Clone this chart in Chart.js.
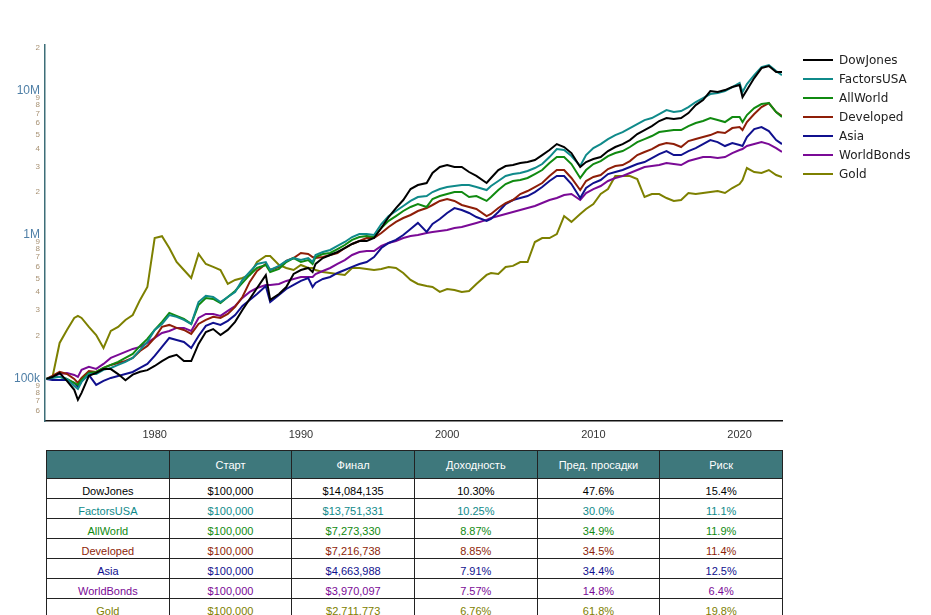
<!DOCTYPE html>
<html>
<head>
<meta charset="utf-8">
<script src="https://cdn.jsdelivr.net/npm/chart.js@4/dist/chart.umd.min.js"></script>
<style>
  body { margin: 0; background: #fff; font-family: "Liberation Sans", Arial, sans-serif; }
  #wrap { position: relative; width: 931px; height: 615px; overflow: hidden; }
  #chartBox { position: absolute; left: 0; top: 0; width: 931px; height: 445px; }
  #legend { position: absolute; left: 803px; top: 50px; font: 12px "DejaVu Sans", sans-serif; color: #222; }
  #legend div { height: 19px; display: flex; align-items: center; }
  #legend span { display: inline-block; width: 30px; height: 2px; margin-right: 6px; }
  #stats { position: absolute; left: 46px; top: 450px; width: 737px; border-collapse: collapse; table-layout: fixed; font-size: 11px; }
  #stats th { background: #3e787c; color: #fff; font-weight: normal; height: 28px; border: 1px solid #222; padding: 0; box-sizing: border-box; }
  #stats td { height: 20px; border: 1px solid #222; text-align: center; padding: 4px 0 0 0; box-sizing: border-box; }
</style>
</head>
<body>
<div id="wrap">
  <div id="chartBox"><canvas id="growth"></canvas></div>
  <div id="legend"></div>
  <table id="stats"></table>
</div>
<script>
// time axis (years, half-year steps plus a few crash points)
const years = [1972.6, 1973, 1973.5, 1974, 1974.5, 1974.75, 1975, 1975.5, 1976, 1976.5, 1977, 1977.5, 1978, 1978.5, 1979, 1979.5,
  1980, 1980.5, 1981, 1981.5, 1982, 1982.5, 1983, 1983.5, 1984, 1984.5, 1985, 1985.5, 1986, 1986.5, 1987, 1987.6, 1987.9,
  1988.5, 1989, 1989.5, 1990, 1990.5, 1990.8, 1991, 1991.5, 1992, 1992.5, 1993, 1993.5, 1994, 1994.5, 1995, 1995.5, 1996, 1996.5, 1997, 1997.5, 1998, 1998.6,
  1999, 1999.5, 2000, 2000.5, 2001, 2001.5, 2002, 2002.7, 2003, 2003.5, 2004, 2004.5, 2005, 2005.5, 2006, 2006.5, 2007, 2007.5, 2008, 2008.5, 2009.1,
  2009.5, 2010, 2010.5, 2011, 2011.5, 2012, 2012.5, 2013, 2013.5, 2014, 2014.5, 2015, 2015.5, 2016, 2016.5, 2017, 2017.5, 2018, 2018.5, 2019, 2019.5, 2020, 2020.2, 2020.5, 2021, 2021.5, 2022, 2022.5, 2022.9];

// portfolio values in thousands of $
const dowJones = [100, 103, 110, 97, 84, 71.5, 80, 105, 110, 117, 117, 108, 98, 107, 112, 115,
  123, 133, 142, 147, 133, 133, 175, 212, 222, 202, 219, 249, 301, 359, 428, 526, 354,
  389, 435, 536, 571, 590, 553, 629, 692, 726, 762, 812, 866, 909, 909, 953, 1119, 1333, 1539, 1750, 2086, 2224, 2297,
  2695, 2967, 3063, 2967, 2967, 2739, 2571, 2297, 2490, 2827, 3015, 3063, 3162, 3213, 3317, 3593, 3892, 4284, 4086, 3710, 2967,
  3213, 3371, 3480, 3830, 4086, 4284, 4567, 5027, 5360, 5714, 6191, 6493, 6390, 6493, 7034, 7993, 8660, 10000, 9842, 10162, 10666, 11010, 9081, 10162, 12310, 14445, 14912, 13550, 13550];

const factorsUSA = [100, 101.6, 103.3, 100, 89.4, 85.3, 95.3, 108.3, 108.3, 115.5, 119.2, 125.1, 131.2, 139.9, 159, 180.7,
  219, 241, 278, 270, 257, 241, 342, 378, 371, 342, 371, 402, 487, 553, 629, 649, 571,
  610, 660, 692, 670, 692, 649, 726, 762, 787, 839, 894, 968, 1016, 1016, 1000, 1192, 1354, 1468, 1591, 1725, 1836, 1866,
  1988, 2086, 2154, 2189, 2224, 2224, 2154, 2053, 2189, 2372, 2571, 2652, 2695, 2784, 2920, 3112, 3480, 3955, 3892, 3536, 3015,
  3593, 4018, 4284, 4641, 4946, 5189, 5533, 5899, 6289, 6493, 6922, 7380, 7148, 7263, 7743, 8390, 8945, 9531, 9685, 10000, 10666, 11366, 9842, 11183, 12915, 14680, 15153, 13760, 12915];

const allWorld = [100, 103.3, 103.3, 100, 93.8, 90.9, 98.4, 110.1, 111.8, 119.2, 125.1, 131.2, 139.9, 149.1, 169.5, 189.6,
  219, 249, 287.5, 274, 261, 241, 326.5, 365.3, 359.4, 337, 371, 408.5, 464.4, 528, 590, 619, 553,
  581, 649, 692, 649, 670, 629, 703, 738, 750, 799, 852, 924, 968, 984, 968, 1119, 1253, 1354, 1468, 1566, 1641, 1566,
  1778, 1866, 1926, 1988, 1988, 1836, 1866, 1725, 1836, 2053, 2260, 2372, 2410, 2490, 2652, 2827, 3162, 3480, 3480, 3112, 2490,
  2827, 3112, 3264, 3536, 3710, 3830, 4086, 4423, 4641, 4870, 5189, 5275, 5360, 5360, 5714, 5994, 6191, 6493, 6289, 6092, 6598, 6598, 6092, 6810, 7620, 8122, 8254, 7148, 6598];

const developed = [100, 104.9, 111.8, 108.3, 100, 93.8, 101.6, 113.6, 111.8, 119.2, 125.1, 129.1, 133.3, 139.9, 156.4, 169.5,
  192.7, 229.8, 237.2, 226.1, 219, 205.3, 241, 257, 270, 265.3, 282.7, 316.2, 371, 471.9, 562.3, 629, 571,
  600, 660, 692, 750, 738, 703, 692, 703, 726, 750, 812, 866, 909, 953, 953, 1033, 1137, 1233, 1312, 1377, 1468, 1539,
  1616, 1725, 1778, 1725, 1616, 1566, 1515, 1354, 1399, 1539, 1668, 1750, 1926, 2021, 2154, 2297, 2571, 2827, 2827, 2490, 2053,
  2372, 2530, 2611, 2873, 3015, 3063, 3264, 3593, 3770, 3955, 4217, 4353, 4284, 4086, 4496, 4641, 4793, 4946, 5189, 5107, 5533, 5623, 5360, 6092, 6922, 7743, 8254, 7148, 6703];

const asia = [100, 98.4, 98.4, 98.4, 93.8, 88, 96.8, 106.6, 90.9, 96.8, 101.6, 104.9, 108.3, 111.8, 119.2, 127.1,
  144.5, 166.8, 192.7, 186.6, 180.7, 164.2, 198.9, 233.6, 245, 237.2, 253, 278, 321.3, 354, 389, 442, 342,
  383, 421.7, 449.6, 479.5, 502.7, 435, 464.4, 494.8, 510.9, 544.7, 571, 600, 629, 649, 703, 812, 880, 924, 1000, 1101, 1213, 1050,
  1192, 1292, 1422, 1539, 1491, 1422, 1333, 1253, 1292, 1445, 1641, 1750, 1807, 1866, 1988, 2154, 2372, 2571, 2571, 2260, 1807,
  2120, 2297, 2410, 2652, 2739, 2827, 2967, 3112, 3213, 3425, 3651, 3830, 3593, 3593, 3830, 4018, 4284, 4567, 4423, 4150, 4353, 4217, 4150, 4793, 5446, 5623, 5275, 4567, 4284];

const worldBonds = [100, 103.3, 108.3, 110.1, 106.6, 103.3, 115.5, 121.2, 117.3, 127.1, 139.9, 146.8, 154, 161.6, 166.8, 177.8,
  192.7, 208.7, 215.4, 226.1, 226.1, 215.4, 265.3, 282.7, 282.7, 274, 296.9, 321.3, 365.3, 402, 428, 449.6, 449.6,
  456.8, 479.5, 494.8, 510.9, 510.9, 510.9, 536, 562.3, 590, 629, 670, 726, 762, 774, 774, 839, 880, 909, 953, 984, 1000, 1033,
  1050, 1067, 1084, 1119, 1137, 1174, 1213, 1273, 1312, 1354, 1399, 1445, 1491, 1539, 1591, 1668, 1750, 1807, 1896, 1926, 1750,
  1957, 2086, 2189, 2372, 2490, 2571, 2695, 2827, 2967, 3015, 3063, 3162, 3112, 3063, 3264, 3371, 3480, 3480, 3425, 3480, 3710, 3892, 3955, 4150, 4284, 4423, 4284, 4018, 3770];

const gold = [100, 101.6, 177.8, 219, 265.3, 274, 265.3, 229.8, 202, 164.2, 215.4, 229.8, 257, 278, 354, 435,
  953, 980, 812, 649, 571, 502.7, 738, 629, 600, 571, 456.8, 487, 502.7, 528, 649, 714.6, 714.6,
  619, 590, 571, 619, 590, 590, 571, 553, 544.7, 536, 528, 590, 590, 581, 571, 581, 600, 590, 544.7, 487, 456.8, 442,
  435, 402, 421.7, 415, 402, 408.5, 456.8, 528, 544.7, 536, 600, 610, 649, 649, 894, 953, 953, 1016, 1354, 1233, 1399,
  1515, 1641, 1926, 2086, 2571, 2571, 2571, 2448, 1836, 1926, 1926, 1807, 1725, 1750, 1957, 1926, 1957, 1988, 2021, 1957, 2120, 2260, 2410, 2920, 2739, 2695, 2827, 2611, 2530];

const names = ["DowJones", "FactorsUSA", "AllWorld", "Developed", "Asia", "WorldBonds", "Gold"];
const colors = ["#000000", "#0f8a8a", "#108a10", "#8e1e08", "#10108e", "#7a0a96", "#7d8000"];
const series = [dowJones, factorsUSA, allWorld, developed, asia, worldBonds, gold];

// axis ticks
const xTicks = [1980, 1990, 2000, 2010, 2020];
const yTicks = [60, 70, 80, 90, 100, 200, 300, 400, 500, 600, 700, 800, 900, 1000, 2000, 3000, 4000, 5000, 6000, 7000, 8000, 9000, 10000, 20000];
const yMajor = { 100: "100k", 1000: "1M", 10000: "10M" };

// table data
const startVals = ["$100,000", "$100,000", "$100,000", "$100,000", "$100,000", "$100,000", "$100,000"];
const finalVals = ["$14,084,135", "$13,751,331", "$7,273,330", "$7,216,738", "$4,663,988", "$3,970,097", "$2,711,773"];
const returns = ["10.30%", "10.25%", "8.87%", "8.85%", "7.91%", "7.57%", "6.76%"];
const drawdowns = ["47.6%", "30.0%", "34.9%", "34.5%", "34.4%", "14.8%", "61.8%"];
const risks = ["15.4%", "11.1%", "11.9%", "11.4%", "12.5%", "6.4%", "19.8%"];
const headers = ["", "Старт", "Финал", "Доходность", "Пред. просадки", "Риск"];

const datasets = series.map((vals, i) => ({
  label: names[i],
  data: vals.map((v, j) => ({ x: years[j], y: v })),
  borderColor: colors[i],
  backgroundColor: colors[i],
  borderWidth: 2,
  pointRadius: 0,
  fill: false,
  tension: 0,
}));

new Chart(document.getElementById("growth"), {
  type: "line",
  data: { datasets: datasets },
  options: {
    responsive: true,
    maintainAspectRatio: false,
    animation: false,
    layout: { padding: { top: 45, right: 149, left: 0, bottom: 0 } },
    plugins: { legend: { display: false }, tooltip: { enabled: false } },
    scales: {
      x: {
        type: "linear",
        min: 1972.5,
        max: 2022.9,
        afterBuildTicks: (s) => { s.ticks = xTicks.map((v) => ({ value: v })); },
        afterFit: (s) => { s.height = 24; },
        grid: { display: false, drawTicks: false },
        border: { display: true, color: "#111", width: 1.5 },
        ticks: { color: "#333", padding: 7, font: { size: 11, family: "Liberation Sans" }, callback: (v) => String(v) },
      },
      y: {
        type: "logarithmic",
        min: 51,
        max: 20900,
        afterBuildTicks: (s) => { s.ticks = yTicks.map((v) => ({ value: v })); },
        afterFit: (s) => { s.width = 45; },
        grid: { display: false, drawTicks: false },
        border: { display: true, color: "#3d6e78", width: 1.5 },
        ticks: {
          padding: 5,
          autoSkip: false,
          callback: (v) => yMajor[v] || String(v).charAt(0),
          color: (ctx) => (yMajor[ctx.tick.value] ? "#4f7fa6" : "#a89274"),
          font: (ctx) => (yMajor[ctx.tick.value] ? { size: 12, family: "Liberation Sans" } : { size: 8, family: "Liberation Sans" }),
        },
      },
    },
  },
});

// legend on the right
const legend = document.getElementById("legend");
names.forEach((n, i) => {
  const row = document.createElement("div");
  row.innerHTML = `<span style="background:${colors[i]}"></span>${n}`;
  legend.appendChild(row);
});

// stats table below the chart
const table = document.getElementById("stats");
let html = "<tr>" + headers.map((h) => `<th>${h}</th>`).join("") + "</tr>";
names.forEach((n, i) => {
  const cells = [n, startVals[i], finalVals[i], returns[i], drawdowns[i], risks[i]];
  html += `<tr style="color:${colors[i]}">` + cells.map((c) => `<td>${c}</td>`).join("") + "</tr>";
});
table.innerHTML = html;
</script>
</body>
</html>
